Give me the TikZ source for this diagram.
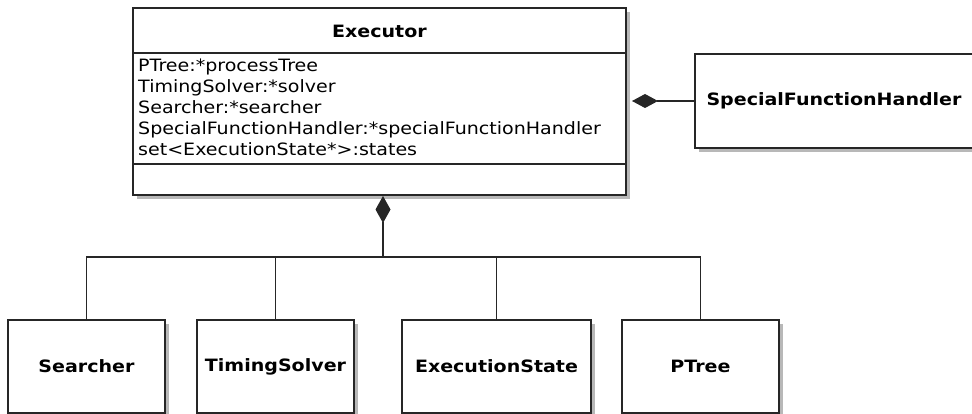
\documentclass[tikz,border=0pt]{standalone}
\usepackage{fontspec}
\setmainfont{DejaVu Sans}[FakeStretch=1.12]
\usetikzlibrary{shadows,arrows.meta}
\begin{document}
\begin{tikzpicture}[x=1pt,y=-1pt,
  every node/.style={font=\fontsize{17}{21}\selectfont},
  umlbox/.style={draw=black!85,line width=1.2pt,fill=white,inner sep=0pt,
    drop shadow={shadow xshift=4pt,shadow yshift=-4pt,fill=black!28,opacity=1}},
  conn/.style={draw=black!85,line width=1.2pt},
  comp/.style={conn,{Diamond[length=26pt,width=14pt]}-},
  ttl/.style={font=\fontsize{17}{21}\selectfont\bfseries}]
\useasboundingbox (0,0) rectangle (972,414);

% Executor
\node[umlbox,minimum width=493pt,minimum height=187pt] (exec) at (379.5,101.5) {};
\draw[conn] (133,53) -- (626,53);
\draw[conn] (133,164) -- (626,164);
\node[ttl] (exectitle) at (379.5,31) {Executor};
\node[anchor=north west,align=left,inner sep=0pt] (attrs) at (138,59)
  {PTree:*processTree\\TimingSolver:*solver\\Searcher:*searcher\\SpecialFunctionHandler:*specialFunctionHandler\\set<ExecutionState*>:states};

% SpecialFunctionHandler
\node[umlbox,minimum width=279pt,minimum height=94pt] (sfh) at (834.5,101) {};
\node[ttl] (sfhtitle) at (834,101) {SpecialFunctionHandler};

% bottom classes
\node[umlbox,minimum width=157pt,minimum height=93pt] (searcher) at (86.5,366.5) {};
\node[ttl] at (searcher.center) {Searcher};
\node[umlbox,minimum width=157pt,minimum height=93pt] (timing) at (275.5,366.5) {};
\node[ttl] at (timing.center) {TimingSolver};
\node[umlbox,minimum width=189pt,minimum height=93pt] (estate) at (496.5,366.5) {};
\node[ttl] at (estate.center) {ExecutionState};
\node[umlbox,minimum width=157pt,minimum height=93pt] (ptree) at (700.5,366.5) {};
\node[ttl] at (ptree.center) {PTree};

% connectors
\coordinate (dtop) at (383,196);
\coordinate (junc) at (383,257);
\draw[comp,{Diamond[length=27pt,width=15pt]}-] (dtop) -- (junc);
\draw[conn] (searcher.north) |- (junc);
\draw[conn] (ptree.north) |- (junc);
\draw[conn] (timing.north) -- (timing.north |- junc);
\draw[conn] (estate.north) -- (estate.north |- junc);
\coordinate (dright) at (632,101);
\draw[comp] (dright) -- (sfh.west);
\end{tikzpicture}
\end{document}
